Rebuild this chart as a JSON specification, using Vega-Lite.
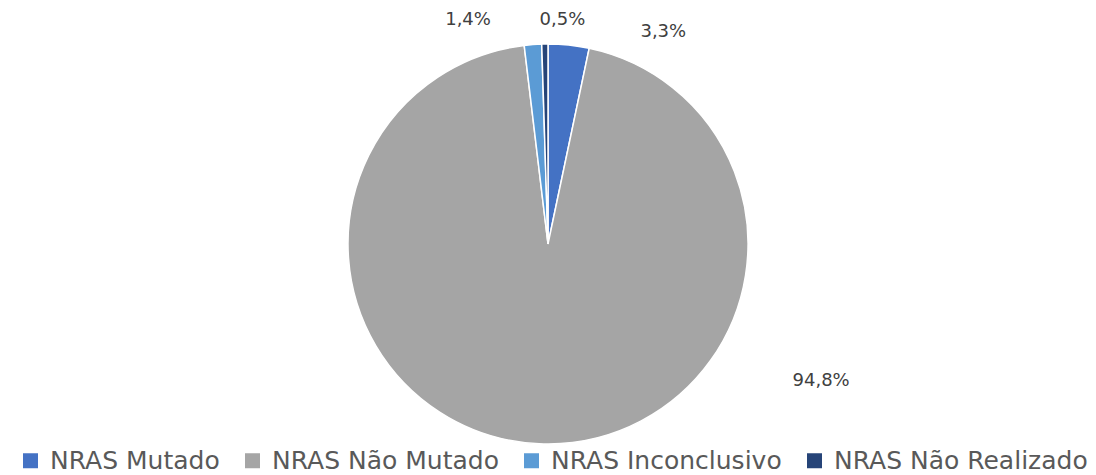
{
  "$schema": "https://vega.github.io/schema/vega-lite/v6.json",
  "width": 1096,
  "height": 440,
  "autosize": {"type": "none"},
  "padding": {"top": 24, "left": 0, "right": 0, "bottom": 11},
  "background": "white",
  "data": {
    "values": [
      {"categoria": "NRAS Mutado", "pct": 3.3, "label": "3,3%", "ordem": 1},
      {"categoria": "NRAS Não Mutado", "pct": 94.8, "label": "94,8%", "ordem": 2},
      {"categoria": "NRAS Inconclusivo", "pct": 1.4, "label": "1,4%", "ordem": 3},
      {"categoria": "NRAS Não Realizado", "pct": 0.5, "label": "0,5%", "ordem": 4}
    ]
  },
  "encoding": {
    "theta": {"field": "pct", "type": "quantitative", "stack": true},
    "order": {"field": "ordem", "type": "quantitative"}
  },
  "layer": [
    {
      "mark": {"type": "arc", "radius": 200, "stroke": "white", "strokeWidth": 1.5},
      "encoding": {
        "color": {
          "field": "categoria",
          "type": "nominal",
          "sort": ["NRAS Mutado", "NRAS Não Mutado", "NRAS Inconclusivo", "NRAS Não Realizado"],
          "scale": {
            "domain": ["NRAS Mutado", "NRAS Não Mutado", "NRAS Inconclusivo", "NRAS Não Realizado"],
            "range": ["#4472C4", "#A5A5A5", "#5B9BD5", "#264478"]
          },
          "legend": {
            "title": null,
            "orient": "bottom",
            "direction": "horizontal",
            "symbolType": "square",
            "symbolSize": 225,
            "symbolStrokeWidth": 0,
            "labelFont": "DejaVu Sans",
            "labelFontSize": 25,
            "labelColor": "#595959",
            "labelLimit": 400,
            "labelOffset": 7,
            "columnPadding": 20,
            "offset": -34,
            "padding": 18
          }
        }
      }
    },
    {
      "mark": {"type": "text", "radius": 225, "font": "DejaVu Sans", "fontSize": 18, "color": "#404040", "align": "center", "baseline": "middle", "dx": 92, "dy": 12},
      "encoding": {"text": {"condition": {"test": "datum.label == '3,3%'", "field": "label"}, "value": ""}}
    },
    {
      "mark": {"type": "text", "radius": 225, "font": "DejaVu Sans", "fontSize": 18, "color": "#404040", "align": "center", "baseline": "middle", "dx": 283, "dy": -88},
      "encoding": {"text": {"condition": {"test": "datum.label == '94,8%'", "field": "label"}, "value": ""}}
    },
    {
      "mark": {"type": "text", "radius": 225, "font": "DejaVu Sans", "fontSize": 18, "color": "#404040", "align": "center", "baseline": "middle", "dx": -63, "dy": 0},
      "encoding": {"text": {"condition": {"test": "datum.label == '1,4%'", "field": "label"}, "value": ""}}
    },
    {
      "mark": {"type": "text", "radius": 225, "font": "DejaVu Sans", "fontSize": 18, "color": "#404040", "align": "center", "baseline": "middle", "dx": 18, "dy": 1},
      "encoding": {"text": {"condition": {"test": "datum.label == '0,5%'", "field": "label"}, "value": ""}}
    }
  ],
  "config": {"view": {"stroke": null}}
}
